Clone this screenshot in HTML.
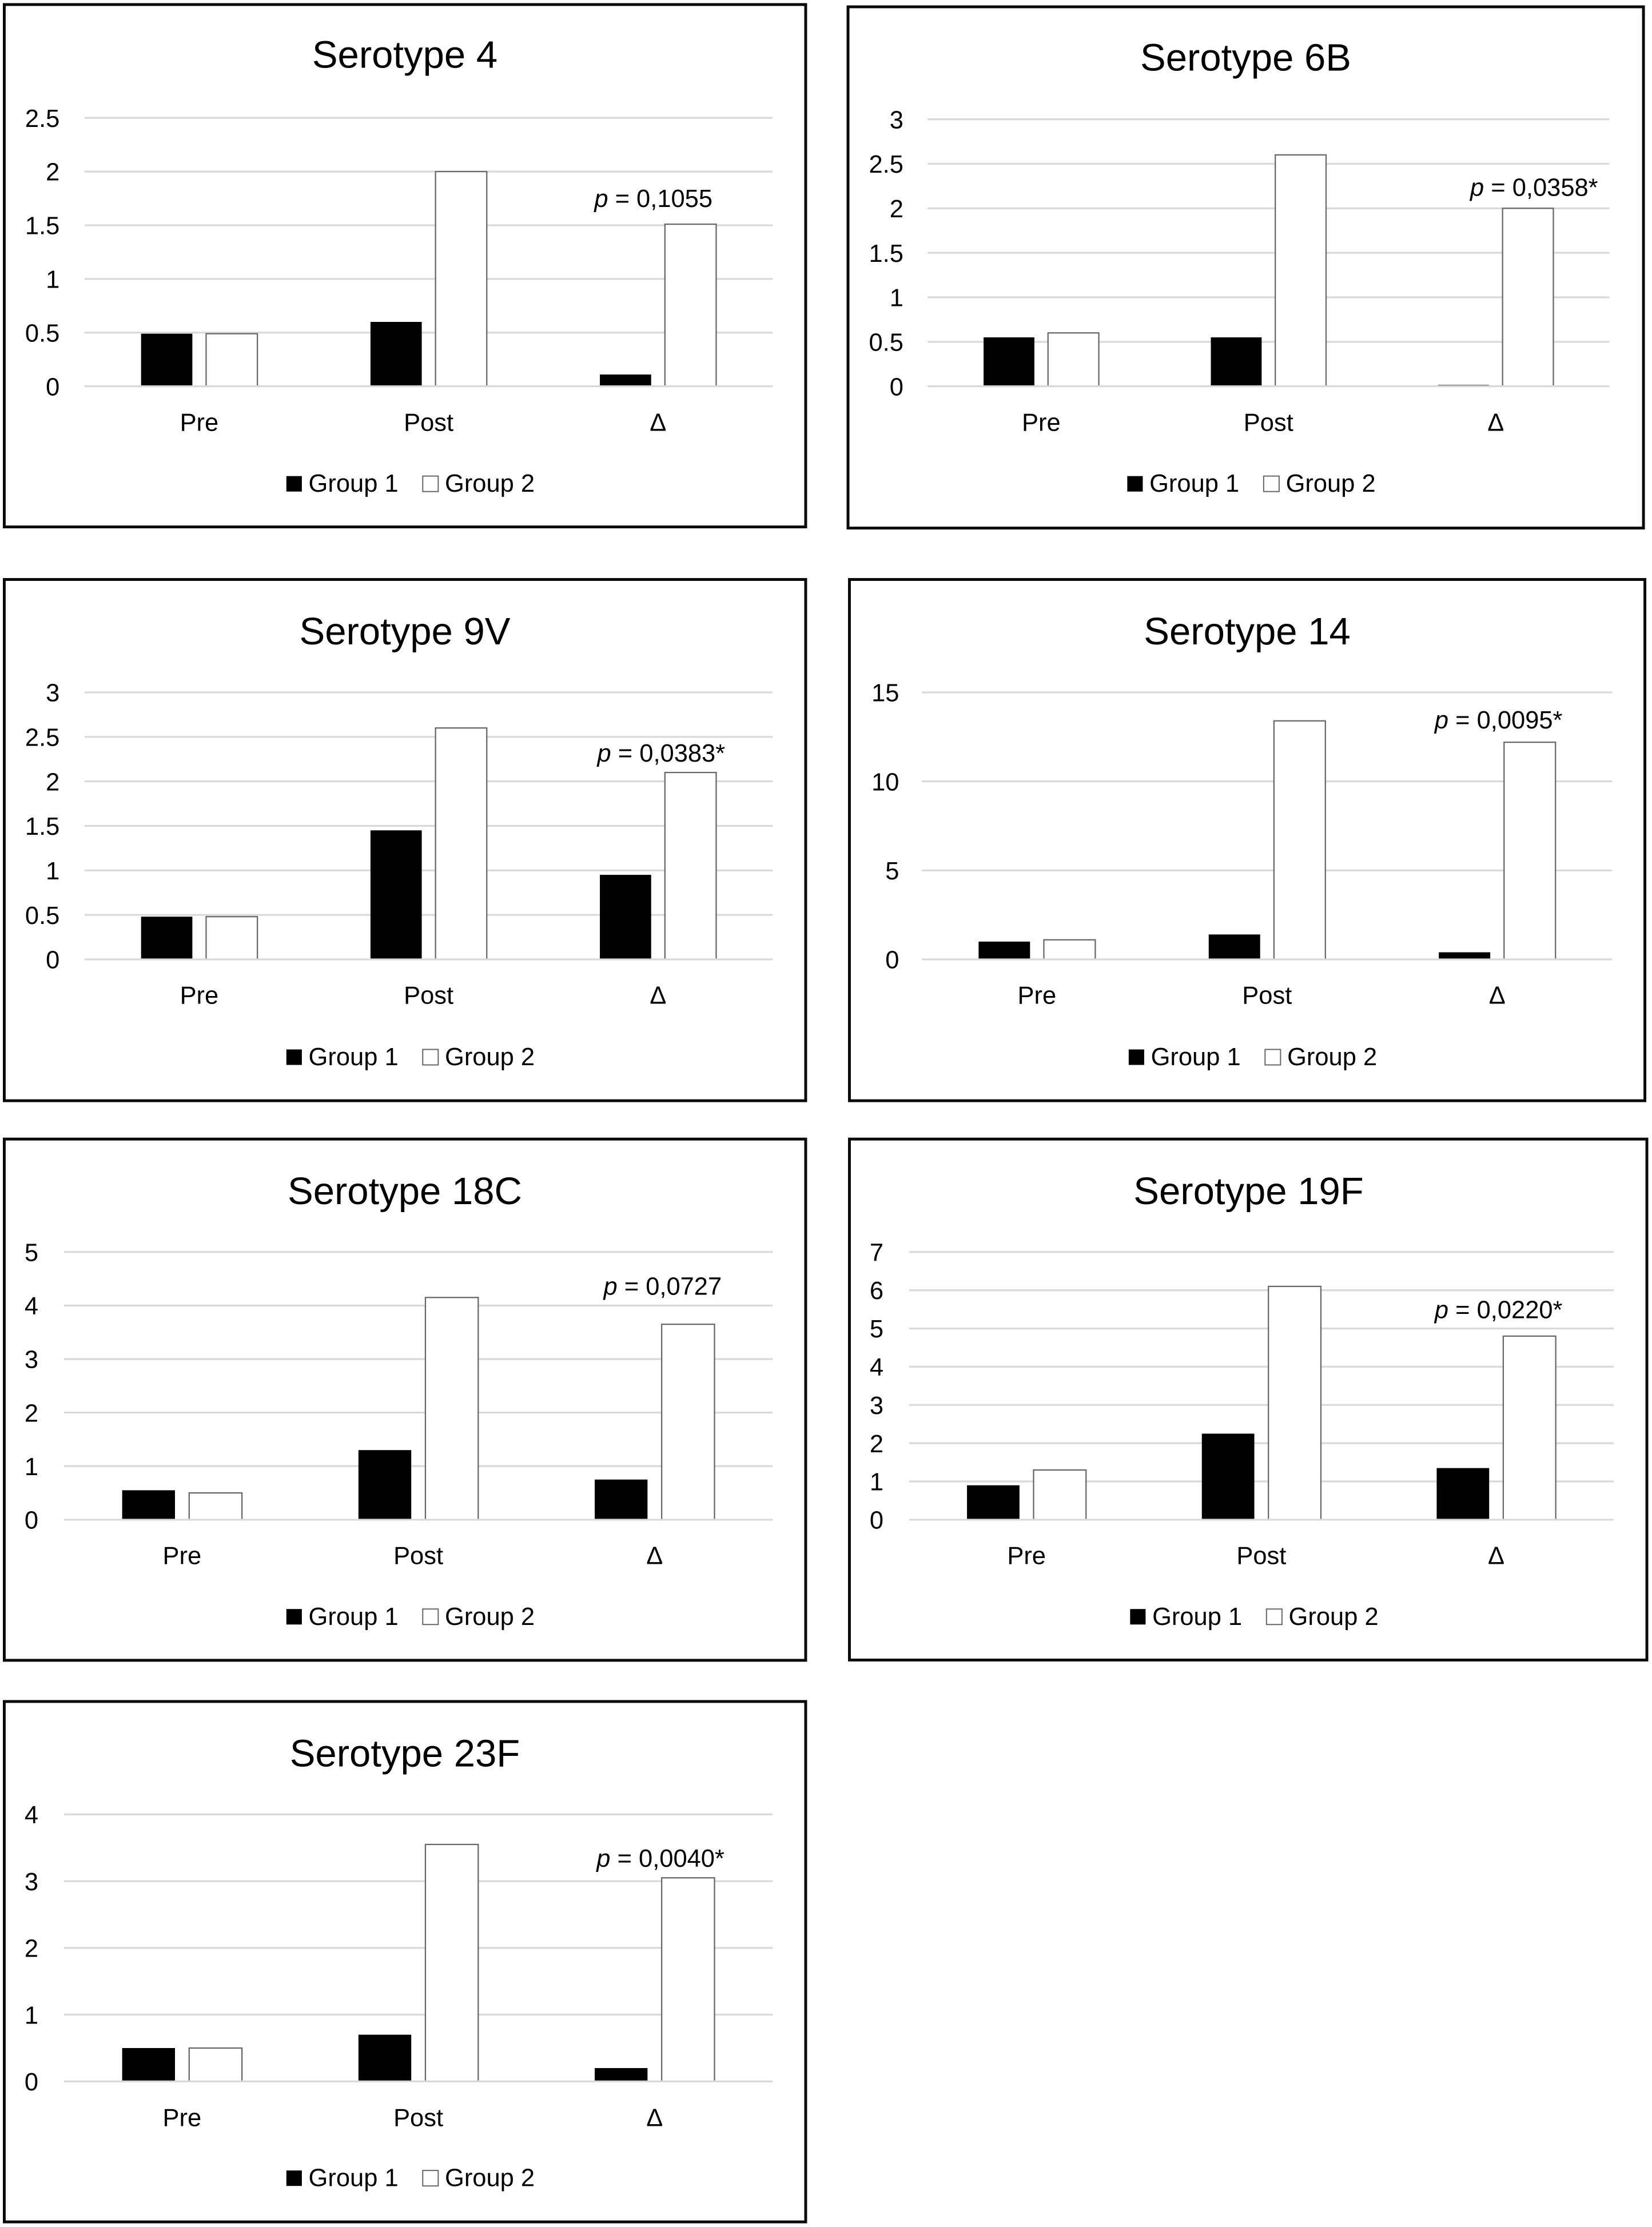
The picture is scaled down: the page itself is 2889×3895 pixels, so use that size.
<!DOCTYPE html>
<html lang="en">
<head>
<meta charset="utf-8">
<title>Serotype antibody charts</title>
<style>
html,body{margin:0;padding:0;background:#fff;}
svg{display:block;}
text{font-family:"Liberation Sans",sans-serif;fill:#000;}
</style>
</head>
<body>
<svg id="figure" xmlns="http://www.w3.org/2000/svg" width="2889" height="3895" viewBox="0 0 1163 1568"></svg>
<script>
// ---- data ----
const categories = ['Pre', 'Post', 'Δ'];
const seriesNames = ['Group 1', 'Group 2'];

const titles = ['Serotype 4', 'Serotype 6B', 'Serotype 9V', 'Serotype 14', 'Serotype 18C', 'Serotype 19F', 'Serotype 23F'];
const pLabels = ['0,1055', '0,0358*', '0,0383*', '0,0095*', '0,0727', '0,0220*', '0,0040*'];

const ticks4 = [0, 0.5, 1, 1.5, 2, 2.5];
const ticks6B = [0, 0.5, 1, 1.5, 2, 2.5, 3];
const ticks9V = [0, 0.5, 1, 1.5, 2, 2.5, 3];
const ticks14 = [0, 5, 10, 15];
const ticks18C = [0, 1, 2, 3, 4, 5];
const ticks19F = [0, 1, 2, 3, 4, 5, 6, 7];
const ticks23F = [0, 1, 2, 3, 4];

const group1s4 = [0.49, 0.6, 0.11];
const group2s4 = [0.49, 2.0, 1.51];
const group1s6B = [0.55, 0.55, 0.015];
const group2s6B = [0.6, 2.6, 2.0];
const group1s9V = [0.48, 1.45, 0.95];
const group2s9V = [0.48, 2.6, 2.1];
const group1s14 = [1.0, 1.4, 0.4];
const group2s14 = [1.1, 13.4, 12.2];
const group1s18C = [0.55, 1.3, 0.75];
const group2s18C = [0.5, 4.15, 3.65];
const group1s19F = [0.9, 2.25, 1.35];
const group2s19F = [1.3, 6.1, 4.8];
const group1s23F = [0.5, 0.7, 0.2];
const group2s23F = [0.5, 3.55, 3.05];

const tickSets = [ticks4, ticks6B, ticks9V, ticks14, ticks18C, ticks19F, ticks23F];
const group1Sets = [group1s4, group1s6B, group1s9V, group1s14, group1s18C, group1s19F, group1s23F];
const group2Sets = [group2s4, group2s6B, group2s9V, group2s14, group2s18C, group2s19F, group2s23F];

// ---- layout (separate from data) ----
const frames = [
  {x: 3, y: 3.2, w: 564.2, h: 367.8, left: 59.5, right: 544, top: 83, base: 272, tickX: 42, titleX: 285, titleY: 38, catY: 297, legY: 340, legX: 201.6, pX: 460, pOff: 18.5},
  {x: 597, y: 4.8, w: 560, h: 367, left: 653, right: 1133, top: 84, base: 272, tickX: 636, titleX: 877, titleY: 40, catY: 297, legY: 340, legX: 793.6, pX: 1080, pOff: 15},
  {x: 3, y: 408, w: 564.2, h: 367, left: 59.5, right: 544, top: 487.5, base: 675.5, tickX: 42, titleX: 285, titleY: 444, catY: 700.5, legY: 743.7, legX: 201.6, pX: 465.5, pOff: 14},
  {x: 598, y: 408, w: 560, h: 367, left: 649, right: 1135, top: 487.5, base: 675.5, tickX: 633, titleX: 878, titleY: 444, catY: 700.5, legY: 743.7, legX: 794.6, pX: 1055, pOff: 16},
  {x: 3, y: 802, w: 564.2, h: 367, left: 45, right: 544, top: 881.5, base: 1070, tickX: 27, titleX: 285, titleY: 838, catY: 1095, legY: 1137.7, legX: 201.6, pX: 466.5, pOff: 27},
  {x: 598, y: 802, w: 561.4, h: 366.8, left: 640, right: 1136, top: 881.5, base: 1070, tickX: 622, titleX: 879, titleY: 838, catY: 1095, legY: 1137.7, legX: 795.6, pX: 1055, pOff: 19},
  {x: 3, y: 1198, w: 564.2, h: 366.4, left: 45, right: 544, top: 1277.5, base: 1465.5, tickX: 27, titleX: 285, titleY: 1234, catY: 1490.7, legY: 1533, legX: 201.6, pX: 465, pOff: 14}
];

const NS = 'http://www.w3.org/2000/svg';
const TITLE_SIZE = 27;
const TEXT_SIZE = 17.5;
const root = document.getElementById('figure');

function make(parent, tag, attrs, content) {
  const el = document.createElementNS(NS, tag);
  for (const k in attrs) el.setAttribute(k, attrs[k]);
  if (content !== undefined) el.textContent = content;
  parent.appendChild(el);
  return el;
}

function drawGridline(g, f, y) {
  const line = make(g, 'line', {x1: f.left, x2: f.right, y1: y, y2: y, stroke: '#d9d9d9', 'stroke-width': 1.3});
  
  
}

function drawChart(i) {
  const f = frames[i];
  const ticks = tickSets[i];
  const series = [group1Sets[i], group2Sets[i]];
  const yMax = Math.max.apply(null, ticks);
  const yScale = v => f.base - (v / yMax) * (f.base - f.top);
  const band = (f.right - f.left) / categories.length;
  const barW = band * 0.2235;
  const gap = band * 0.06;
  const xBar = (c, s) => f.left + band * (c + 0.5) + (s === 0 ? -gap / 2 - barW : gap / 2);

  const g = make(root, 'g', {});
  
  

  const frame = make(g, 'rect', {x: f.x, y: f.y, width: f.w, height: f.h, fill: '#fff', stroke: '#0a0a0a', 'stroke-width': 2});
  
  

  const title = make(g, 'text', {x: f.titleX, y: f.titleY + TITLE_SIZE * 0.36, 'text-anchor': 'middle', 'font-size': TITLE_SIZE}, titles[i]);
  
  

  ticks.forEach(t => {
    if (t !== 0) drawGridline(g, f, yScale(t));
    const label = make(g, 'text', {x: f.tickX, y: yScale(t) + TEXT_SIZE * 0.36, 'text-anchor': 'end', 'font-size': TEXT_SIZE}, String(t));
    
    
  });

  categories.forEach((cat, c) => {
    series.forEach((vals, s) => {
      const y = yScale(vals[c]);
      const bar = make(g, 'rect', {
        x: xBar(c, s), y: y, width: barW, height: f.base - y,
        fill: s === 0 ? '#000' : '#fff',
        stroke: s === 0 ? 'none' : '#666', 'stroke-width': s === 0 ? 0 : 0.9
      });
      
      
    });
    const catLabel = make(g, 'text', {x: f.left + band * (c + 0.5), y: f.catY + TEXT_SIZE * 0.36, 'text-anchor': 'middle', 'font-size': TEXT_SIZE}, cat);
    
    
  });

  drawGridline(g, f, yScale(0));

  const pY = yScale(series[1][2]) - f.pOff + TEXT_SIZE * 0.36;
  const pText = make(g, 'text', {x: f.pX, y: pY, 'text-anchor': 'middle', 'font-size': TEXT_SIZE});
  
  
  make(pText, 'tspan', {'font-style': 'italic'}, 'p');
  make(pText, 'tspan', {}, ' = ' + pLabels[i]);

  const legend = make(g, 'g', {});
  
  
  seriesNames.forEach((name, s) => {
    const lx = f.legX + s * 96;
    const swatch = make(legend, 'rect', {
      x: lx, y: f.legY - 4.8, width: 10.9, height: 10.9,
      fill: s === 0 ? '#000' : '#fff', stroke: s === 0 ? 'none' : '#666', 'stroke-width': s === 0 ? 0 : 0.8
    });
    
    
    const lt = make(legend, 'text', {x: lx + 15.6, y: f.legY + TEXT_SIZE * 0.36, 'font-size': TEXT_SIZE}, name);
    
    
  });
}

titles.forEach((_, i) => drawChart(i));
</script>
</body>
</html>
